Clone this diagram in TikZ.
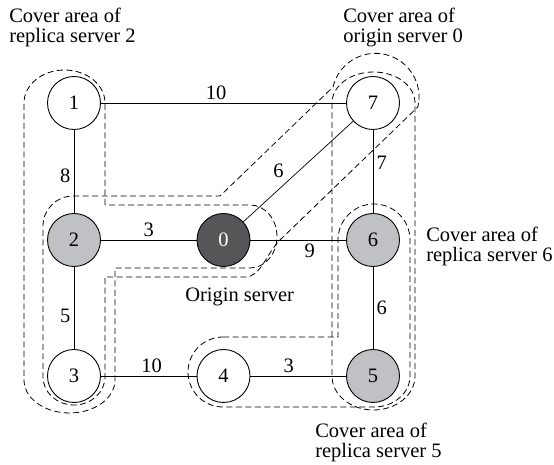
\documentclass[tikz,border=0pt]{standalone}
\usepackage{amsmath}
\usepackage{fontspec}
\setmainfont{Liberation Serif}
\usepackage{tikz}
\usetikzlibrary{positioning, automata}
\definecolor{replicagray}{RGB}{192,193,196}
\definecolor{origingray}{RGB}{86,86,88}

\begin{document}
\begin{tikzpicture}[x=1pt,y=1pt,semithick,node distance=149.5pt,font=\fontsize{20.5}{20.5}\selectfont]
\tikzstyle{every state}=[fill=white,draw=black,text=black,minimum size=53pt,inner sep=0pt,line width=0.9pt]
\tikzstyle{replica}=[fill=replicagray]
\tikzstyle{origin}=[fill=origingray,text=white]
\tikzstyle{cover}=[dash pattern=on 6pt off 3.5pt,line width=0.8pt]
\tikzstyle{caption}=[anchor=base west,align=left,inner sep=0pt]
\useasboundingbox (0,0) rectangle (554,465);

\draw[cover] (105,260) -- (105,362) arc[start angle=0,end angle=180,x radius=40.5,y radius=33]
  -- (24,85) arc[start angle=180,end angle=360,x radius=45.5,y radius=33]
  -- (115,197) -- (250,197) arc[start angle=-90,end angle=90,x radius=27,y radius=31.5] -- cycle;
\draw[cover] (73,269) -- (220,269) -- (333,378) arc[start angle=166.8,end angle=-13.2,radius=43.6]
  -- (280,225) .. controls (266,211) and (261,188) .. (245,188) -- (105,188)
  -- (105,88) arc[start angle=0,end angle=-180,x radius=31,y radius=28]
  -- (43,239) arc[start angle=180,end angle=90,radius=30] -- cycle;
\draw[cover] (223,128) -- (338,128) -- (338,225) arc[start angle=180,end angle=0,radius=36]
  -- (410,89) arc[start angle=0,end angle=-90,x radius=36,y radius=31]
  -- (223,58) arc[start angle=270,end angle=90,radius=35] -- cycle;
\draw[cover] (332,362) -- (332,89) arc[start angle=180,end angle=360,x radius=41.5,y radius=34]
  -- (415,362) arc[start angle=0,end angle=180,x radius=41.5,y radius=31] -- cycle;

\node[state,replica] (n2) at (74,225) {2};
\node[state,origin] (n0) [right of=n2] {0};
\node[state,replica] (n6) [right of=n0] {6};
\node[state] (n1) [above of=n2,node distance=137pt] {1};
\node[state] (n7) [above of=n6,node distance=137pt] {7};
\node[state] (n3) [below of=n2,node distance=136pt] {3};
\node[state] (n4) [right of=n3] {4};
\node[state,replica] (n5) [right of=n4] {5};

\path[line width=0.7pt]
(n1) edge node[above,pos=0.47]{10} (n7)
(n1) edge node[left,pos=0.55]{8} (n2)
(n2) edge node[above]{3} (n0)
(n0) edge node[above left,pos=0.4]{6} (n7)
(n0) edge node[below,pos=0.62]{9} (n6)
(n7) edge node[right,pos=0.4]{7} (n6)
(n6) edge node[right]{6} (n5)
(n2) edge node[left,pos=0.6]{5} (n3)
(n3) edge node[above,pos=0.53]{10} (n4)
(n4) edge node[above,pos=0.4]{3} (n5);

\node[caption] (rs2) at (9,422) {Cover area of\\replica server 2};
\node[caption] (os0) at (343,422) {Cover area of\\origin server 0};
\node[caption] (rs6) at (426,203) {Cover area of\\replica server 6};
\node[caption] (rs5) at (315,7) {Cover area of\\replica server 5};
\node[anchor=base west,inner sep=0pt] (org) at (185,163) {Origin server};
\end{tikzpicture}
\end{document}
